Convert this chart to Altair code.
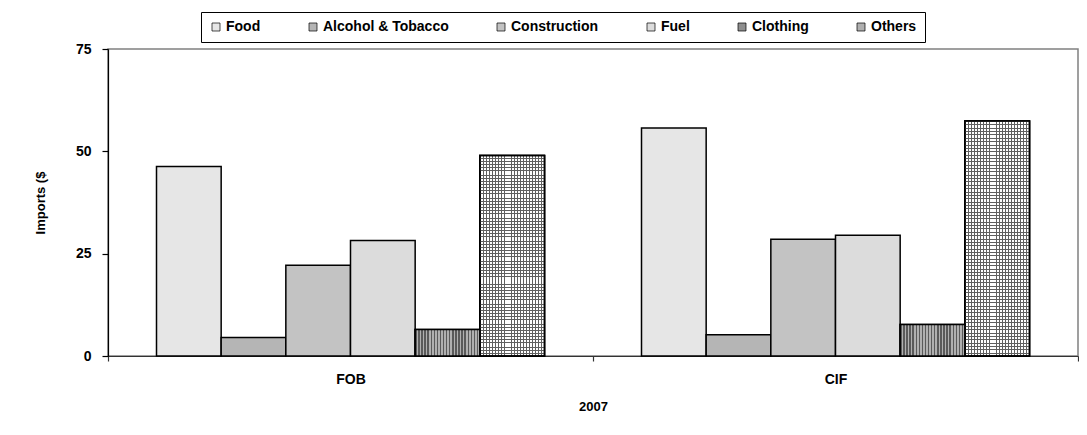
import pandas as pd
import altair as alt

groups = ["FOB", "CIF"]
series = ["Food", "Alcohol & Tobacco", "Construction", "Fuel", "Clothing", "Others"]
fob_values = [46.3, 4.5, 22.2, 28.2, 6.5, 49.0]
cif_values = [55.7, 5.2, 28.5, 29.5, 7.7, 57.4]
y_ticks = [0, 25, 50, 75]

# flat grey tones standing in for Excel's hatch patterns
greys = ["#e6e6e6", "#b5b5b5", "#c3c3c3", "#dcdcdc", "#8f8f8f", "#b0b0b0"]

rows = []
for g, vals in zip(groups, [fob_values, cif_values]):
    for s, v in zip(series, vals):
        rows.append({"group": g, "series": s, "value": v})
df = pd.DataFrame(rows)

FONT = "Liberation Sans"


def stripes(n, line, bg, frac, vertical=True):
    # hard-stop gradient that draws n thin lines across the bar
    stops = []
    for i in range(n):
        a = i / n
        b = a + frac / n
        stops += [
            alt.GradientStop(offset=a, color=line),
            alt.GradientStop(offset=b, color=line),
            alt.GradientStop(offset=b, color=bg),
            alt.GradientStop(offset=(i + 1) / n, color=bg),
        ]
    if vertical:
        return alt.LinearGradient(gradient="linear", stops=stops, x1=0, x2=1, y1=0, y2=0)
    return alt.LinearGradient(gradient="linear", stops=stops, x1=0, x2=0, y1=0, y2=1)


# no padding on the group scale so the ticks fall between the groups;
# the gap around each group comes from the offset scale instead
x_enc = alt.X(
    "group:N",
    sort=groups,
    scale=alt.Scale(paddingInner=0, paddingOuter=0),
    axis=alt.Axis(
        title="2007", labelAngle=0, tickBand="extent", tickSize=5,
        labelPadding=11, titlePadding=14, domainColor="#333333",
        tickColor="#333333",
    ),
)
xoff_enc = alt.XOffset("series:N", sort=series,
                       scale=alt.Scale(domain=series, paddingInner=0, paddingOuter=0.75))
y_enc = alt.Y(
    "value:Q",
    scale=alt.Scale(domain=[0, 75], nice=False),
    axis=alt.Axis(
        title="Imports ($", values=y_ticks, grid=False, tickSize=6,
        labelPadding=11, titlePadding=28, domainColor="black", tickColor="black",
    ),
)

base = alt.Chart(df).mark_bar(stroke="black", strokeWidth=1.5).encode(
    x=x_enc,
    xOffset=xoff_enc,
    y=y_enc,
    color=alt.Color(
        "series:N",
        sort=series,
        scale=alt.Scale(domain=series, range=greys),
        legend=alt.Legend(
            title=None, orient="none", legendX=93, legendY=-37,
            direction="horizontal", columns=6, strokeColor="black",
            padding=8, symbolType="square", symbolSize=64,
            symbolStrokeColor="black", symbolStrokeWidth=0.7,
            labelFont=FONT, labelFontSize=14, labelFontWeight="bold",
            labelColor="black", labelOffset=3, columnPadding=45, labelLimit=300,
        ),
    ),
)

others_v = alt.Chart(df).mark_bar(
    fill=stripes(21, "#606060", "#ffffff", 0.3), stroke="black", strokeWidth=1.5
).encode(x=x_enc, xOffset=xoff_enc, y=y_enc).transform_filter(alt.datum.series == "Others")

others_h = alt.Chart(df).mark_bar(
    fill=stripes(70, "#606060", "rgba(255,255,255,0)", 0.3, vertical=False),
    stroke="black", strokeWidth=1.5
).encode(x=x_enc, xOffset=xoff_enc, y=y_enc).transform_filter(alt.datum.series == "Others")

clothing_v = alt.Chart(df).mark_bar(
    fill=stripes(21, "#5a5a5a", "#b0b0b0", 0.45), stroke="black", strokeWidth=1.5
).encode(x=x_enc, xOffset=xoff_enc, y=y_enc).transform_filter(alt.datum.series == "Clothing")

chart = alt.layer(base, others_v, others_h, clothing_v).properties(
    width=970,
    height=307,
    padding={"left": 26, "top": 3, "right": 0, "bottom": 5},
).configure_view(
    stroke="#808080", strokeWidth=1.5,
).configure_axis(
    labelFont=FONT, labelFontSize=14, labelFontWeight="bold", labelColor="black",
    titleFont=FONT, titleFontSize=13, titleFontWeight="bold", titleColor="black",
    domainWidth=1.2, tickWidth=1.2,
)

chart.save("out.html", embed_options={"renderer": "svg", "actions": False})
